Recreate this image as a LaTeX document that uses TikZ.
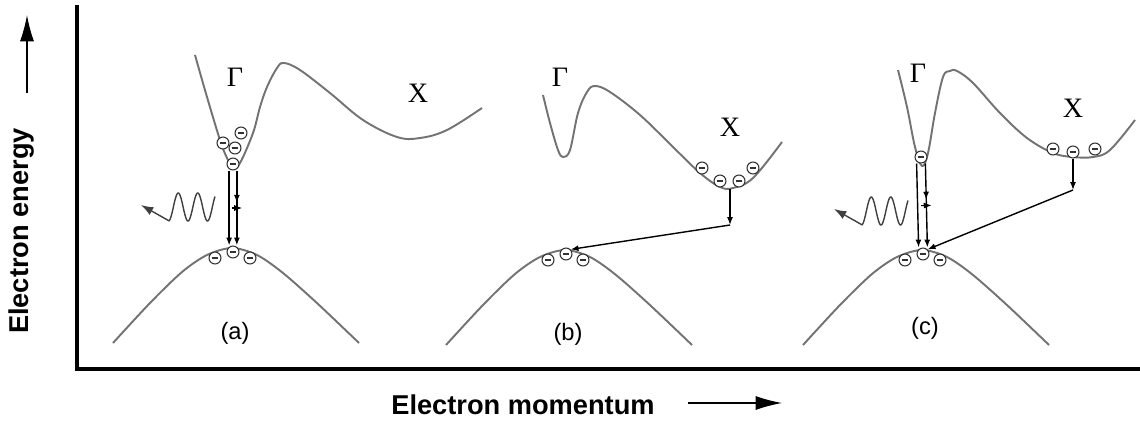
\documentclass[tikz,border=0pt]{standalone}
\usepackage{fontspec}
\setmainfont{Liberation Serif}
\setsansfont{Liberation Sans}
\usetikzlibrary{arrows.meta,decorations.markings}

\tikzset{
  band/.style={black!55, line width=1.1pt},
  electron/.style={circle, draw=black!80, fill=white, line width=0.6pt, minimum size=6.8pt, inner sep=0pt,
    path picture={\draw[black!80, line width=0.6pt] ([xshift=1.5pt]path picture bounding box.west) -- ([xshift=-1.5pt]path picture bounding box.east);}},
  trans/.style={->, line width=0.8pt},
  midtick/.style={postaction={decorate}, decoration={markings,
      mark=at position 0.43 with {\arrow{Latex[length=4.5pt,width=3.4pt]}},
      mark=at position 0.5 with {\draw[line width=0.6pt] (0,-3pt) -- (0,3pt);}}},
  photon/.style={-{Latex[length=7pt,width=5pt]}, black!75, line width=0.8pt},
  axis/.style={line width=2.4pt},
  axisarrow/.style={-{Latex[length=15pt,width=8pt]}, line width=0.7pt},
  symbol/.style={font=\fontsize{16}{18}\selectfont},
  panel/.style={font=\sffamily\fontsize{13.5}{16}\selectfont},
  axislabel/.style={font=\sffamily\bfseries\fontsize{15.5}{18}\selectfont}
}

\begin{document}
\begin{tikzpicture}[x=0.02cm, y=-0.02cm, >={Latex[length=4.5pt,width=3.4pt]}]
	\useasboundingbox (0,0) rectangle (1140,427);

	\coordinate (ytop) at (77,5); \coordinate (origin) at (77,369); \coordinate (xend) at (1140,369);
	\draw[axis] (ytop) -- (origin) -- (xend);
	\node[axislabel, rotate=90] (elen) at (22,231) {Electron energy};
	\node[axislabel] (elmom) at (523,405) {Electron momentum};
	\coordinate (en1) at (27,93); \coordinate (en2) at (27,15);
	\coordinate (mo1) at (688,403); \coordinate (mo2) at (782,403);
	\draw[axisarrow] (en1) -- (en2);
	\draw[axisarrow] (mo1) -- (mo2);

	\foreach \px/\py/\lab/\ly in {232/248/a/85, 565/250/b/84, 922/250/c/78} {
		\begin{scope}[shift={(\px,\py)}]
			\draw[band] plot[smooth] coordinates {(-119,95) (-82,55) (-50,24) (-25,7) (0,0) (25,7) (51,25) (86,56) (127,95)};
			\node[electron] (v1\lab) at (-17,10) {};
			\node[electron] (v3\lab) at (18,10) {};
			\node[electron] (v2\lab) at (1,4) {};
			\node[panel] (lbl\lab) at (3,\ly) {(\lab)};
		\end{scope}
	}

	\draw[band] plot[smooth, tension=0.6] coordinates {(195,55) (207,97) (220,140) (227,158) (233,168) (240,163) (253,133) (260,107) (267,87) (277,68) (284,63) (300,70) (330,93) (363,120) (397,137) (420,138) (447,130) (482,108)};
	\node[symbol] (gama) at (235,77) {Γ};
	\node[symbol] (xa) at (418,93) {X};
	\node[electron] (aG1) at (223,143) {};
	\node[electron] (aG2) at (241,133) {};
	\node[electron] (aG3) at (235,148) {};
	\node[electron] (aG4) at (233,164) {};
	\draw[trans] ([xshift=-2.2pt]aG4.south) -- ([xshift=-2.2pt]v2a.north);
	\draw[trans, midtick] ([xshift=2.2pt]aG4.south) -- ([xshift=2.2pt]v2a.north);

	\draw[band] plot[smooth, tension=0.6] coordinates {(543,95) (550,123) (558,150) (563,157) (570,150) (578,113) (587,92) (595,86) (610,92) (640,115) (673,147) (700,173) (720,187) (733,188) (753,178) (782,142)};
	\node[symbol] (gamb) at (560,77) {Γ};
	\node[symbol] (xb) at (730,127) {X};
	\node[electron] (bX1) at (702,168) {};
	\node[electron] (bX2) at (720,181) {};
	\node[electron] (bX3) at (739,181) {};
	\node[electron] (bX4) at (753,168) {};
	\coordinate (bX) at (730,189); \coordinate (bK) at (730,225);
	\draw[trans] (bX) -- (bK);
	\draw[trans] (bK) -- (v2b.north east);

	\draw[band] plot[smooth, tension=0.6] coordinates {(898,70) (907,107) (915,147) (922,166) (928,153) (935,113) (943,77) (950,71) (957,71) (973,83) (1000,113) (1027,138) (1053,153) (1073,157) (1093,157) (1110,150) (1135,120)};
	\node[symbol] (gamc) at (918,73) {Γ};
	\node[symbol] (xc) at (1073,108) {X};
	\node[electron] (cG) at (921,157) {};
	\node[electron] (cX1) at (1053,149) {};
	\node[electron] (cX2) at (1073,152) {};
	\node[electron] (cX3) at (1095,149) {};
	\draw[trans] ([xshift=-2.5pt]cG.south) -- ([xshift=-2.5pt]v2c.north);
	\draw[trans, midtick] ([xshift=2.5pt]cG.south) -- ([xshift=2.5pt]v2c.north);
	\coordinate (cK) at (1073,190);
	\draw[trans] (cX2.south) -- (cK);
	\draw[trans] (cK) -- (v2c.north east);

	\foreach \xs/\yc/\nm in {215/207/a, 908/211/c} {
		\coordinate (ph\nm) at (\xs-74,\yc-2);
		\draw[photon] plot[domain=0:46, samples=80] ({\xs-\x},{\yc+14*cos(360*(\x-7.5)/19.5)}) -- (ph\nm);
	}
\end{tikzpicture}
\end{document}
